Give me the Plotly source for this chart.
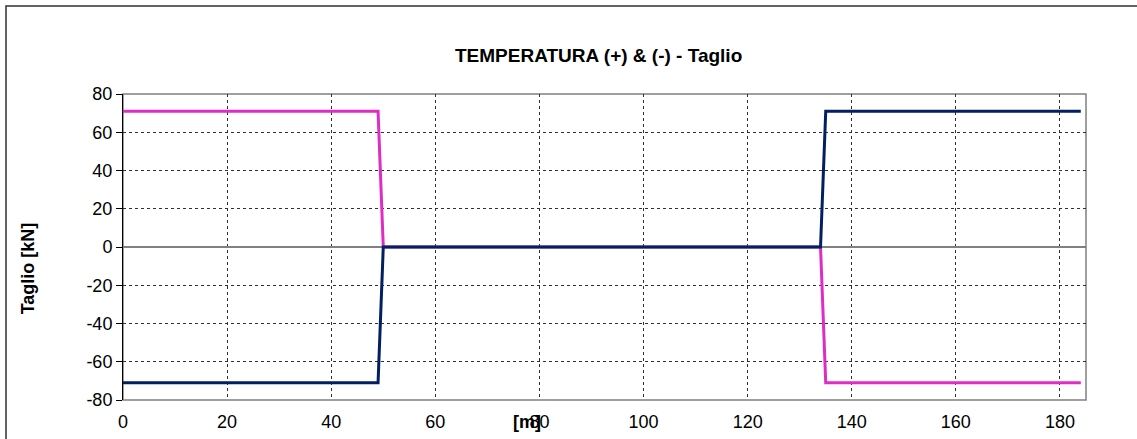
import plotly.graph_objects as go

# progressiva [m] e taglio [kN]
x_m = [0, 49, 50, 134, 135, 184]
taglio_pos = [71, 71, 0, 0, -71, -71]
taglio_neg = [-71, -71, 0, 0, 71, 71]

y_ticks = [-80, -60, -40, -20, 0, 20, 40, 60, 80]
y_labels = ['-80', '-60', '-40', '-20', '0', '20', '40', '60', '80']
x_ticks = [0, 20, 40, 60, 80, 100, 120, 140, 160, 180]

fig = go.Figure()
fig.add_trace(go.Scatter(x=x_m, y=taglio_pos, mode='lines', line=dict(color='#E02CC4', width=3), name='T(+)'))
fig.add_trace(go.Scatter(x=x_m, y=taglio_neg, mode='lines', line=dict(color='#002060', width=3), name='T(-)'))

font = "Liberation Sans, Arial, sans-serif"
fig.update_layout(
    width=1137, height=439,
    margin=dict(l=123, r=51, t=94, b=39),
    paper_bgcolor='white', plot_bgcolor='white',
    showlegend=False,
    font=dict(family=font, size=18, color='black'),
    xaxis=dict(range=[0, 185], tickvals=x_ticks, showgrid=True, gridcolor='#303030', griddash='dot', gridwidth=1,
               zeroline=False, showline=False, ticks='', tickfont=dict(size=18), ticklabelstandoff=9,
               automargin=False),
    yaxis=dict(range=[-80, 80], tickvals=y_ticks, ticktext=y_labels, showgrid=True, gridcolor='#303030',
               griddash='dot', gridwidth=1, automargin=False,
               zeroline=True, zerolinecolor='#808080', zerolinewidth=1.5,
               showline=True, linecolor='black', linewidth=1, ticks='outside', ticklen=6, tickcolor='black',
               tickfont=dict(size=18)),
    shapes=[
        dict(type='rect', xref='paper', yref='paper', x0=0, x1=1, y0=0, y1=1,
             line=dict(color='#808080', width=1.5), layer='below'),
        dict(type='rect', xref='paper', yref='paper', x0=-0.1215, x1=1.1, y0=-0.3, y1=1.2876,
             line=dict(color='#303030', width=1.5)),
    ],
    annotations=[
        dict(text='<b>TEMPERATURA (+) & (-) - Taglio</b>', xref='paper', yref='paper', x=0.494, y=1.127,
             xanchor='center', yanchor='middle', showarrow=False, font=dict(size=19, family=font)),
        dict(text='<b>Taglio [kN]</b>', xref='paper', yref='paper', x=-0.0987, y=0.43, textangle=-90,
             xanchor='center', yanchor='middle', showarrow=False, font=dict(size=18, family=font)),
        dict(text='<b>[m]</b>', xref='paper', yref='paper', x=0.4195, y=-0.072,
             xanchor='center', yanchor='middle', showarrow=False, font=dict(size=18, family=font)),
    ],
)
fig.write_html("out.html", config={'displayModeBar': False}, post_script="document.body.style.margin='0';")
